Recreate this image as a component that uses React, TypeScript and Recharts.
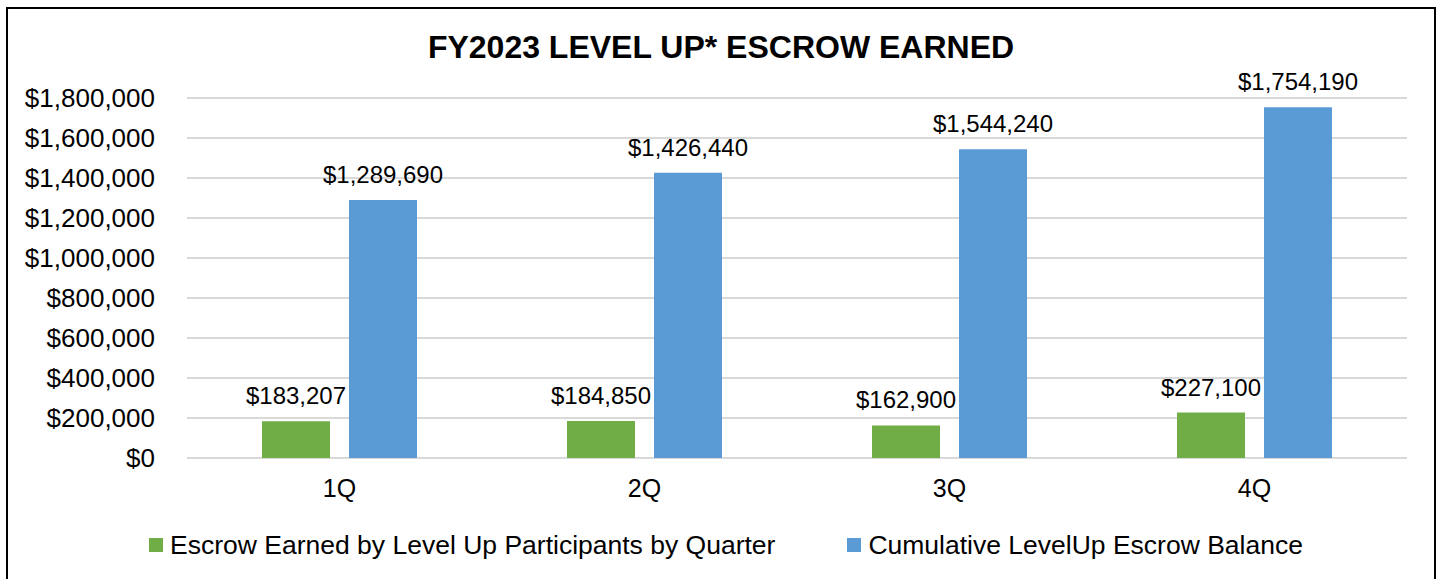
import React from 'react';
import { BarChart, Bar, XAxis, YAxis, CartesianGrid, Legend, LabelList } from 'recharts';

const quarters = ['1Q', '2Q', '3Q', '4Q'];
const earnedByQuarter = [183207, 184850, 162900, 227100];
const cumulativeBalance = [1289690, 1426440, 1544240, 1754190];
const yTicks = [0, 200000, 400000, 600000, 800000, 1000000, 1200000, 1400000, 1600000, 1800000];

const seriesOrder = ['earned', 'cumulative'];
const seriesNames = {
  earned: 'Escrow Earned by Level Up Participants by Quarter',
  cumulative: 'Cumulative LevelUp Escrow Balance',
};

const data = quarters.map((q, i) => ({
  name: q,
  earned: earnedByQuarter[i],
  cumulative: cumulativeBalance[i],
}));

const FONT = '"Liberation Sans", Arial, sans-serif';
const money = (v: number) => '$' + Number(v).toLocaleString('en-US');

const LegendContent = (props: any) => {
  const items = [...(props.payload || [])].sort(
    (a: any, b: any) => seriesOrder.indexOf(a.dataKey) - seriesOrder.indexOf(b.dataKey)
  );
  return (
    <div
      style={{
        display: 'flex',
        justifyContent: 'center',
        alignItems: 'center',
        paddingTop: 17,
        paddingLeft: 45,
        fontFamily: FONT,
        fontSize: 26.5,
        lineHeight: '30px',
        color: '#000',
      }}
    >
      {items.map((entry: any, i: number) => (
        <div key={`legend-${i}`} style={{ display: 'flex', alignItems: 'center', marginLeft: i === 0 ? 0 : 72 }}>
          <span style={{ display: 'inline-block', width: 14, height: 14, background: entry.color, marginRight: 7 }} />
          <span>{entry.value}</span>
        </div>
      ))}
    </div>
  );
};

const App: React.FC = () => {
  return (
    <div style={{ position: 'fixed', left: 0, top: 0, width: 1442, height: 579, overflow: 'hidden', background: '#fff', fontFamily: FONT }}>
      <div
        style={{
          position: 'absolute',
          left: 6,
          top: 7,
          width: 1430,
          height: 620,
          border: '2px solid #000',
          boxSizing: 'border-box',
          zIndex: 2,
          pointerEvents: 'none',
        }}
      />
      <div
        style={{
          position: 'absolute',
          left: 0,
          top: 31,
          width: 1442,
          textAlign: 'center',
          fontSize: 32,
          lineHeight: '32px',
          fontWeight: 'bold',
          color: '#000',
        }}
      >
        FY2023 LEVEL UP* ESCROW EARNED
      </div>
      <div style={{ position: 'absolute', left: 0, top: 0 }}>
        <BarChart
          width={1442}
          height={579}
          data={data}
          margin={{ top: 98, right: 35, left: 0, bottom: 0 }}
          barSize={68}
          barGap={19}
        >
          <CartesianGrid vertical={false} stroke="#d9d9d9" strokeWidth={2} />
          <XAxis
            dataKey="name"
            axisLine={false}
            tickLine={false}
            tickSize={0}
            tickMargin={21}
            height={55}
            tick={{ fill: '#000', fontSize: 25, fontFamily: FONT }}
          />
          <YAxis
            domain={[0, 1800000]}
            ticks={yTicks}
            width={187}
            axisLine={false}
            tickLine={false}
            tickSize={0}
            tickMargin={32}
            tickFormatter={money}
            tick={{ fill: '#000', fontSize: 26, fontFamily: FONT }}
          />
          <Legend verticalAlign="bottom" height={66} content={<LegendContent />} />
          <Bar dataKey="earned" name={seriesNames.earned} fill="#70ad47" isAnimationActive={false}>
            <LabelList dataKey="earned" position="top" offset={17} formatter={money} fill="#000" fontSize={24} fontFamily={FONT} />
          </Bar>
          <Bar dataKey="cumulative" name={seriesNames.cumulative} fill="#5b9bd5" isAnimationActive={false}>
            <LabelList dataKey="cumulative" position="top" offset={17} formatter={money} fill="#000" fontSize={24} fontFamily={FONT} />
          </Bar>
        </BarChart>
      </div>
    </div>
  );
};

export default App;
